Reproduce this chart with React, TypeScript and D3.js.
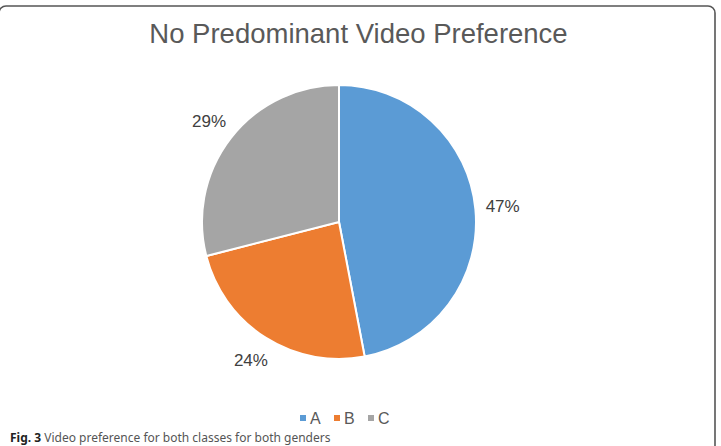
import React from "react";
import * as d3 from "d3";

const categories = ["A", "B", "C"];
const values = [47, 24, 29];
const colors = ["#5B9BD5", "#ED7D31", "#A5A5A5"];
const title = "No Predominant Video Preference";
const captionBold = "Fig. 3";
const captionText = " Video preference for both classes for both genders";

const W = 721;
const H = 446;
const cx = 339;
const cy = 222;
const R = 137;
const FONT = "'Liberation Sans', Arial, Helvetica, sans-serif";

export default function App() {
  const pie = d3.pie<number>().sort(null).value((d) => d)(values);
  const arc = d3.arc<d3.PieArcDatum<number>>().innerRadius(0).outerRadius(R);
  const labelArc = d3.arc<d3.PieArcDatum<number>>().innerRadius(R * 1.2).outerRadius(R * 1.2);
  const total = d3.sum(values);

  const legendStartX = 300;
  const legendStep = 34;
  const legendY = 418;

  return (
    <svg
      width={W}
      height={H}
      style={{ position: "absolute", left: 0, top: 0, display: "block" }}
    >
      <rect x={0} y={0} width={W} height={H} fill="#fff" />
      <rect x={-1} y={6} width={716} height={470} rx={7} fill="#fff" stroke="#555" strokeWidth={1.6} />
      <text
        x={358.5}
        y={43}
        textAnchor="middle"
        fontFamily={FONT}
        fontSize={27.5}
        fill="#595959"
      >
        {title}
      </text>
      <g transform={`translate(${cx},${cy})`}>
        {pie.map((d, i) => (
          <path key={i} d={arc(d) || ""} fill={colors[i]} stroke="#fff" strokeWidth={2} />
        ))}
        {pie.map((d, i) => {
          const [x, y] = labelArc.centroid(d);
          return (
            <text
              key={"l" + i}
              x={x}
              y={y}
              textAnchor="middle"
              dominantBaseline="central"
              fontFamily={FONT}
              fontSize={17}
              fill="#404040"
            >
              {Math.round((d.value / total) * 100)}%
            </text>
          );
        })}
      </g>
      <g>
        {categories.map((c, i) => (
          <g key={c} transform={`translate(${legendStartX + i * legendStep},${legendY})`}>
            <rect x={0} y={-3} width={6} height={6} fill={colors[i]} />
            <text
              x={10}
              y={0}
              dominantBaseline="central"
              fontFamily={FONT}
              fontSize={16}
              fill="#595959"
            >
              {c}
            </text>
          </g>
        ))}
      </g>
      <text x={10} y={442} fontFamily="'Noto Sans', sans-serif" fontSize={12} fill="#555">
        <tspan fontWeight="bold" fill="#222">{captionBold}</tspan>
        <tspan>{captionText}</tspan>
      </text>
    </svg>
  );
}
